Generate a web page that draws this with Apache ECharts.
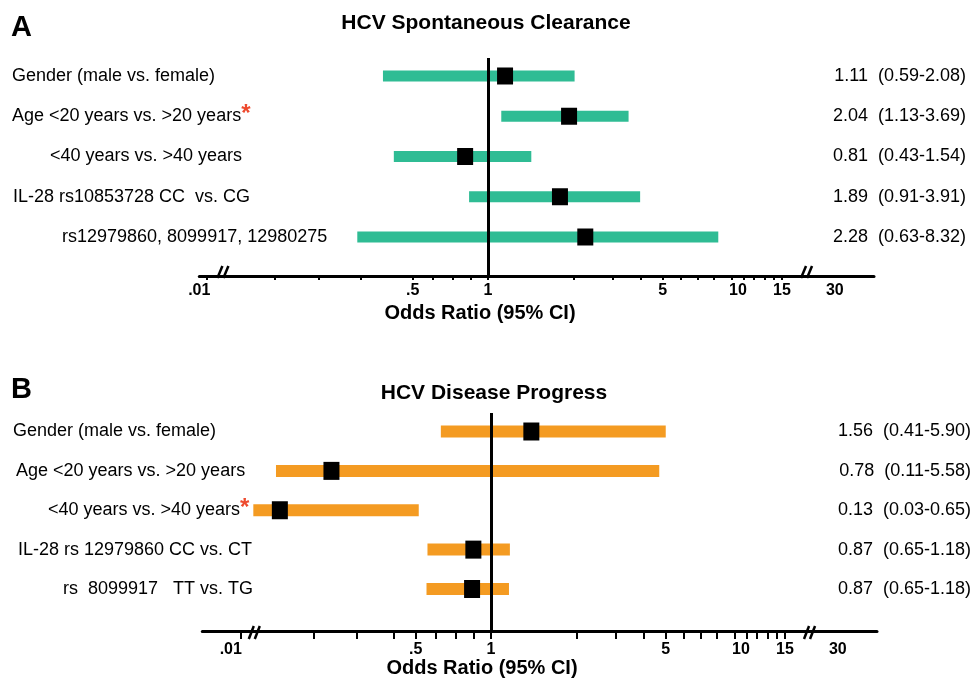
<!DOCTYPE html>
<html>
<head>
<meta charset="utf-8">
<script src="https://cdn.jsdelivr.net/npm/echarts@6/dist/echarts.min.js"></script>
<style>
  html, body { margin: 0; padding: 0; background: #fff; }
  #main { width: 975px; height: 683px; }
</style>
</head>
<body>
<div id="main"></div>
<script>
// ---- panel A: spontaneous clearance ----
var rowsA = ['Gender (male vs. female)', 'Age <20 years vs. >20 years', '<40 years vs. >40 years', 'IL-28 rs10853728 CC  vs. CG', 'rs12979860, 8099917, 12980275'];
var starA = [0, 1, 0, 0, 0];
// squares and bar ends as they are drawn in the figure
var orA = [1.17, 2.11, 0.81, 1.94, 2.45];
var lowA = [0.38, 1.13, 0.42, 0.84, 0.30];
var highA = [2.22, 3.65, 1.49, 4.06, 8.34];
// printed numbers on the right
var orTextA = ['1.11', '2.04', '0.81', '1.89', '2.28'];
var ciTextA = ['0.59-2.08', '1.13-3.69', '0.43-1.54', '0.91-3.91', '0.63-8.32'];

// ---- panel B: disease progress ----
var rowsB = ['Gender (male vs. female)', 'Age <20 years vs. >20 years', '<40 years vs. >40 years', 'IL-28 rs 12979860 CC vs. CT', 'rs  8099917   TT vs. TG'];
var starB = [0, 0, 1, 0, 0];
var orB = [1.45, 0.23, 0.143, 0.85, 0.84];
var lowB = [0.63, 0.138, 0.112, 0.557, 0.552];
var highB = [5.0, 4.71, 0.514, 1.19, 1.18];
var orTextB = ['1.56', '0.78', '0.13', '0.87', '0.87'];
var ciTextB = ['0.41-5.90', '0.11-5.58', '0.03-0.65', '0.65-1.18', '0.65-1.18'];

// ---- odds ratio axis (log10) ----
// .01 and 30 sit past the axis breaks, so their labels go where they are drawn
var tickLabels = ['.01', '.5', '1', '5', '10', '15', '30'];
var tickLabelAtA = [0.07, 0.5, 1, 5, 10, 15, 24.4];
var tickLabelAtB = [0.091, 0.5, 1, 5, 10, 15, 24.4];
var ticksA = [0.075, 0.14, 0.21, 0.31, 0.5, 0.6, 0.72, 0.85, 1, 2.2, 3.15, 4.1, 5, 5.9, 6.9, 8, 9.4, 10.5, 11.6, 12.8, 13.9, 15];
var ticksB = [0.1, 0.195, 0.29, 0.41, 0.5, 0.6, 0.72, 0.85, 1, 2.2, 3.15, 4.1, 5, 5.9, 6.9, 8, 9.4, 10.5, 11.6, 12.8, 13.9, 15];
var breaksA = [0.087, 18.8];
var breaksB = [0.113, 18.8];
var axisMin = 0.07, axisMax = 35;

var FONT = '"Liberation Sans", Arial, Helvetica, sans-serif';
var lg = Math.log10;

var panels = [
  {
    letter: 'A', title: 'HCV Spontaneous Clearance', rows: rowsA, star: starA,
    or: orA, low: lowA, high: highA, orText: orTextA, ciText: ciTextA,
    ticks: ticksA, labelAt: tickLabelAtA, breaks: breaksA,
    color: '#2fbc94',
    grid: { left: 199.3, top: 58, width: 674.7, height: 218 },
    yMin: -0.447, yMax: 4.969, barH: 11, marker: [16, 17],
    tickLen: 4, labelMargin: 7,
    letterY: 28, titleX: 486, titleY: 23.5,
    rowX: [12, 12, 50, 13, 62], numRight: 966,
    nameX: 480, nameY: 313, breakUp: 10, breakDown: 2
  },
  {
    letter: 'B', title: 'HCV Disease Progress', rows: rowsB, star: starB,
    or: orB, low: lowB, high: highB, orText: orTextB, ciText: ciTextB,
    ticks: ticksB, labelAt: tickLabelAtB, breaks: breaksB,
    color: '#f49b22',
    grid: { left: 202.3, top: 413, width: 674.7, height: 218 },
    yMin: -0.47, yMax: 5.067, barH: 12, marker: [16, 18],
    tickLen: 8, labelMargin: 10.5,
    letterY: 390, titleX: 494, titleY: 393.5,
    rowX: [13, 16, 48, 18, 63], numRight: 971,
    nameX: 482, nameY: 668, breakUp: 5, breakDown: 8
  }
];

function ciBar(h, color) {
  return function (params, api) {
    var y = api.value(0);
    var p1 = api.coord([api.value(1), y]);
    var p2 = api.coord([api.value(2), y]);
    return {
      type: 'rect',
      shape: { x: p1[0], y: p1[1] - h / 2, width: p2[0] - p1[0], height: h },
      style: { fill: color }
    };
  };
}

var grids = [], xAxes = [], yAxes = [], series = [];
panels.forEach(function (p, k) {
  grids.push(Object.assign({ outerBoundsMode: 'none' }, p.grid));
  xAxes.push({
    type: 'value', gridIndex: k, min: lg(axisMin), max: lg(axisMax),
    axisLine: { show: true, onZero: false, lineStyle: { color: '#000', width: 3 } },
    axisTick: { show: true, customValues: p.ticks.map(lg), length: p.tickLen, lineStyle: { color: '#000', width: 2 } },
    axisLabel: {
      customValues: p.labelAt.map(lg), margin: p.labelMargin,
      fontSize: 16, fontWeight: 'bold', fontFamily: FONT, color: '#000',
      formatter: function (v) {
        for (var i = 0; i < p.labelAt.length; i++) {
          if (Math.abs(lg(p.labelAt[i]) - v) < 1e-6) return tickLabels[i];
        }
        return '';
      }
    },
    splitLine: { show: false }
  });
  yAxes.push({ type: 'value', gridIndex: k, inverse: true, min: p.yMin, max: p.yMax, show: false });

  series.push({
    type: 'custom', xAxisIndex: k, yAxisIndex: k, z: 2,
    renderItem: ciBar(p.barH, p.color),
    encode: { x: [1, 2], y: 0 },
    data: p.rows.map(function (r, i) { return [i, lg(p.low[i]), lg(p.high[i])]; }),
    markLine: {
      silent: true, symbol: ['none', 'none'], label: { show: false },
      lineStyle: { color: '#000', width: 3, type: 'solid' },
      data: [{ xAxis: 0 }]
    }
  });
  series.push({
    type: 'scatter', xAxisIndex: k, yAxisIndex: k, z: 5,
    symbol: 'rect', symbolSize: p.marker,
    itemStyle: { color: '#000', opacity: 1 },
    data: p.rows.map(function (r, i) { return [lg(p.or[i]), i]; })
  });
});

var chart = echarts.init(document.getElementById('main'));
chart.setOption({
  animation: false,
  backgroundColor: '#fff',
  grid: grids,
  xAxis: xAxes,
  yAxis: yAxes,
  series: series
});

// text and axis breaks, placed with the chart's own scales
var g = [];
function txt(x, y, text, size, weight, align, extra) {
  var style = {
    text: text, fill: '#000', fontSize: size, fontWeight: weight || 'normal',
    fontFamily: FONT, align: align || 'left', verticalAlign: 'middle'
  };
  if (extra) Object.assign(style, extra);
  g.push({ type: 'text', x: x, y: y, silent: true, style: style });
}

panels.forEach(function (p, k) {
  txt(11, p.letterY, p.letter, 29, 'bold');
  txt(p.titleX, p.titleY, p.title, 21, 'bold', 'center');
  txt(p.nameX, p.nameY, 'Odds Ratio (95% CI)', 20, 'bold', 'center');

  p.rows.forEach(function (r, i) {
    var y = chart.convertToPixel({ yAxisIndex: k }, i);
    if (p.star[i]) {
      txt(p.rowX[i], y, r + '{s|*}', 18, 'normal', 'left', {
        rich: { s: { fill: '#ee4a2e', fontSize: 24, fontWeight: 'bold', fontFamily: FONT, padding: [0, 0, 4, 0] } }
      });
    } else {
      txt(p.rowX[i], y, r, 18);
    }
    txt(p.numRight, y, p.orText[i] + '  (' + p.ciText[i] + ')', 18, 'normal', 'right');
  });

  var axisY = p.grid.top + p.grid.height;
  p.breaks.forEach(function (b) {
    var cx = chart.convertToPixel({ xAxisIndex: k }, lg(b));
    [-3, 3].forEach(function (off) {
      g.push({
        type: 'line', silent: true, z: 10,
        shape: { x1: cx + off - 2.5, y1: axisY + p.breakDown, x2: cx + off + 2.5, y2: axisY - p.breakUp },
        style: { stroke: '#000', lineWidth: 2.5 }
      });
    });
  });
});

chart.setOption({ graphic: g });
</script>
</body>
</html>
